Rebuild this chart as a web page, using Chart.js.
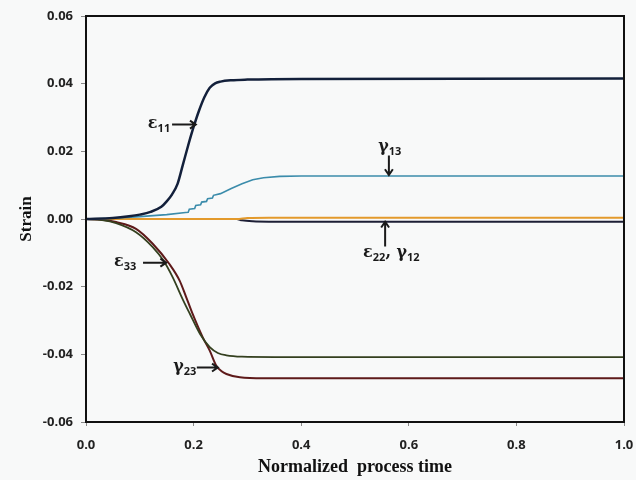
<!DOCTYPE html>
<html lang="en">
<head>
    <meta charset="UTF-8">
    <title>Strain vs process time</title>
    <script src="https://cdn.jsdelivr.net/npm/chart.js"></script>
    <style>
        body { margin: 0; background: #f8f9f9; }
        canvas { display: block; }
    </style>
</head>
<body>

    <canvas id="strainChart" width="636" height="480"></canvas>

    <script>

        // Axis ticks
        const xTicks = [0.0, 0.2, 0.4, 0.6, 0.8, 1.0];
        const yTicks = [-0.06, -0.04, -0.02, 0.00, 0.02, 0.04, 0.06];

        // eps11
        const eps11T = [0, 0.05, 0.08, 0.10, 0.12, 0.14, 0.15, 0.16, 0.17, 0.18, 0.19, 0.20, 0.21, 0.22, 0.23, 0.24, 0.25, 0.27, 0.30, 0.40, 1.0];
        const eps11V = [0, 0.0003, 0.0008, 0.0013, 0.0021, 0.0036, 0.0052, 0.0073, 0.0103, 0.0160, 0.0218, 0.0272, 0.0320, 0.0360, 0.0388, 0.0401, 0.0406, 0.0410, 0.0412, 0.0414, 0.0415];

        // gamma13 (stepped rise)
        const gam13T = [0, 0.05, 0.10, 0.15, 0.185, 0.190, 0.192, 0.202, 0.204, 0.213, 0.215, 0.224, 0.226, 0.235, 0.237, 0.25, 0.27, 0.29, 0.31, 0.33, 0.36, 0.40, 1.0];
        const gam13V = [0, 0.0002, 0.0007, 0.0013, 0.0019, 0.0020, 0.0029, 0.0031, 0.0040, 0.0042, 0.0050, 0.0052, 0.0060, 0.0062, 0.0070, 0.0075, 0.0090, 0.0104, 0.0116, 0.0122, 0.0126, 0.0127, 0.0127];

        // eps22
        const eps22T = [0, 0.28, 0.30, 0.34, 1.0];
        const eps22V = [0, 0, 0.0003, 0.0004, 0.0004];

        // gamma12
        const gam12T = [0, 0.28, 0.29, 0.31, 0.34, 1.0];
        const gam12V = [0, 0, -0.0004, -0.0007, -0.0008, -0.0008];

        // eps33
        const eps33T = [0, 0.03, 0.056, 0.093, 0.124, 0.144, 0.161, 0.180, 0.193, 0.212, 0.230, 0.245, 0.261, 0.29, 0.35, 1.0];
        const eps33V = [0, -0.0003, -0.0012, -0.0039, -0.0083, -0.0123, -0.0172, -0.0238, -0.0280, -0.0340, -0.0379, -0.0396, -0.0403, -0.0407, -0.0408, -0.0408];

        // gamma23
        const gam23T = [0, 0.03, 0.056, 0.093, 0.124, 0.155, 0.174, 0.186, 0.198, 0.217, 0.230, 0.242, 0.252, 0.261, 0.286, 0.33, 1.0];
        const gam23V = [0, -0.0002, -0.0009, -0.0029, -0.0073, -0.0133, -0.0182, -0.0230, -0.0280, -0.0350, -0.0389, -0.0433, -0.0450, -0.0458, -0.0468, -0.0471, -0.0471];

        // Curve labels with arrows: text start, arrow tail, arrow head (data units)
        const notes = [
            { parts: [['ε', '11']], at: [0.115, 0.0279], from: [0.160, 0.0279], to: [0.204, 0.0279] },
            { parts: [['γ', '13']], at: [0.543, 0.0211], from: [0.563, 0.0188], to: [0.563, 0.0130] },
            { parts: [['ε', '22'], [', ', ''], ['γ', '12']], at: [0.515, -0.0102], from: [0.556, -0.0081], to: [0.556, -0.0008] },
            { parts: [['ε', '33']], at: [0.052, -0.0129], from: [0.106, -0.0129], to: [0.149, -0.0129] },
            { parts: [['γ', '23']], at: [0.162, -0.0439], from: [0.206, -0.0439], to: [0.245, -0.0439] }
        ];

        const pts = (t, v) => t.map((x, i) => ({ x: x, y: v[i] }));

        const curve = (label, t, v, color, width, tension) => ({
            label: label,
            data: pts(t, v),
            borderColor: color,
            borderWidth: width,
            pointRadius: 0,
            tension: tension,
            cubicInterpolationMode: tension ? 'monotone' : 'default'
        });

        const data = {
            datasets: [
                curve('ε11', eps11T, eps11V, '#13203b', 2.5, 0.4),
                curve('γ13', gam13T, gam13V, '#3b8cab', 1.6, 0),
                curve('ε22', eps22T, eps22V, '#e39a2c', 2, 0.4),
                curve('γ12', gam12T, gam12V, '#1d1f36', 2, 0.4),
                curve('ε33', eps33T, eps33V, '#34401f', 1.8, 0.4),
                curve('γ23', gam23T, gam23V, '#5e1a1a', 2, 0.4)
            ]
        };

        // Black frame round the plot area
        const frame = {
            id: 'frame',
            afterDatasetsDraw(chart) {
                const a = chart.chartArea;
                const ctx = chart.ctx;
                ctx.save();
                ctx.strokeStyle = '#111';
                ctx.lineWidth = 2;
                ctx.strokeRect(a.left, a.top, a.right - a.left, a.bottom - a.top);
                ctx.restore();
            }
        };

        // Curve names with arrows
        const labels = {
            id: 'labels',
            afterDraw(chart) {
                const xs = chart.scales.x, ys = chart.scales.y;
                const ctx = chart.ctx;
                const px = p => [xs.getPixelForValue(p[0]), ys.getPixelForValue(p[1])];
                ctx.save();
                ctx.fillStyle = '#1a1a1a';
                ctx.strokeStyle = '#1a1a1a';
                ctx.textBaseline = 'middle';
                notes.forEach(n => {
                    let [x, y] = px(n.at);
                    n.parts.forEach(([main, sub]) => {
                        ctx.font = 'bold 16px "DejaVu Serif"';
                        ctx.fillText(main, x, y - 1);
                        x += ctx.measureText(main).width;
                        if (sub) {
                            ctx.font = 'bold 11px "Open Sans"';
                            ctx.fillText(sub, x, y + 4);
                            x += ctx.measureText(sub).width;
                        }
                    });
                    const [x1, y1] = px(n.from);
                    const [x2, y2] = px(n.to);
                    const ang = Math.atan2(y2 - y1, x2 - x1);
                    ctx.lineWidth = 2;
                    ctx.beginPath();
                    ctx.moveTo(x1, y1);
                    ctx.lineTo(x2, y2);
                    ctx.moveTo(x2 - 7 * Math.cos(ang - 0.6), y2 - 7 * Math.sin(ang - 0.6));
                    ctx.lineTo(x2, y2);
                    ctx.lineTo(x2 - 7 * Math.cos(ang + 0.6), y2 - 7 * Math.sin(ang + 0.6));
                    ctx.stroke();
                });
                ctx.restore();
            }
        };

        const tickFont = { family: '"Open Sans"', size: 13, weight: 'bold' };

        const config = {
            type: 'line',
            data,
            options: {
                responsive: false,
                animation: false,
                layout: { padding: { left: 0, right: 12, top: 16, bottom: 0 } },
                scales: {
                    x: {
                        type: 'linear',
                        min: 0,
                        max: 1,
                        afterBuildTicks: s => { s.ticks = xTicks.map(v => ({ value: v })); },
                        afterFit: s => { s.height = 58; s.paddingLeft = 0; s.paddingRight = 0; },
                        ticks: {
                            color: '#222',
                            font: tickFont,
                            padding: 11,
                            maxRotation: 0,
                            callback: v => v.toFixed(1)
                        },
                        grid: { drawOnChartArea: false, tickLength: 4, color: '#888' },
                        border: { display: false },
                        title: {
                            display: true,
                            text: 'Normalized  process time',
                            color: '#111',
                            font: { family: '"Liberation Serif"', size: 18, weight: 'bold' },
                            padding: { top: 0, bottom: 2 }
                        }
                    },
                    y: {
                        min: -0.06,
                        max: 0.06,
                        afterBuildTicks: s => { s.ticks = yTicks.map(v => ({ value: v })); },
                        afterFit: s => { s.width = 86; s.paddingTop = 0; s.paddingBottom = 0; },
                        ticks: {
                            color: '#222',
                            font: tickFont,
                            padding: 8,
                            callback: v => v.toFixed(2)
                        },
                        grid: { drawOnChartArea: false, tickLength: 5, color: '#888' },
                        border: { display: false },
                        title: {
                            display: true,
                            text: 'Strain',
                            color: '#111',
                            font: { family: '"Liberation Serif"', size: 17, weight: 'bold' },
                            padding: { top: 16, bottom: 0 }
                        }
                    }
                },
                plugins: {
                    legend: { display: false },
                    tooltip: { enabled: false }
                }
            },
            plugins: [frame, labels]
        };

        const strainChart = new Chart(
            document.getElementById('strainChart'),
            config
        );

    </script>

</body>
</html>
